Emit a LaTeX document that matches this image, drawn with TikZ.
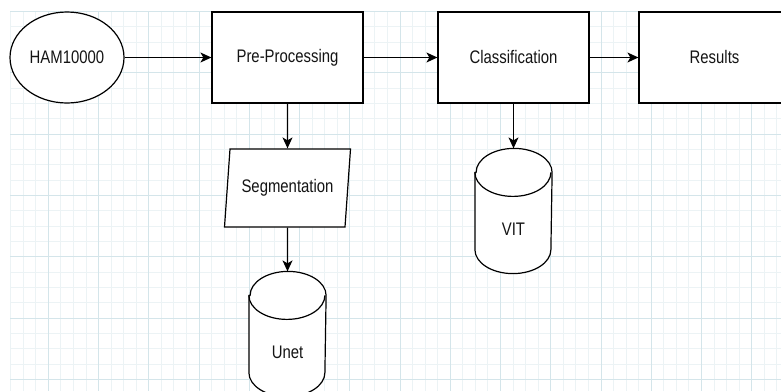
\documentclass[tikz,border=0pt]{standalone}
\usepackage{fontspec}
\setmainfont{Liberation Sans}
\usetikzlibrary{shapes.geometric,arrows.meta}
\definecolor{gridminor}{RGB}{236,243,245}
\definecolor{gridmajor}{RGB}{212,229,234}
\definecolor{ink}{RGB}{20,20,20}
\newcommand{\tallbox}[1]{\scalebox{1}[1.22]{#1}}
% a drum outline round a named box
\newcommand{\drawstore}[1]{%
  \draw[-,fill=white] ([yshift=-24pt]#1.north west) -- ([yshift=24pt]#1.south west)
    arc[start angle=180,end angle=360,x radius=38pt,y radius=24pt]
    -- ([yshift=-24pt]#1.north east)
    arc[start angle=0,end angle=180,x radius=38pt,y radius=24pt] -- cycle;
  \draw[-] ([yshift=-24pt]#1.north west)
    arc[start angle=180,end angle=360,x radius=38pt,y radius=24pt];}

\begin{document}
\begin{tikzpicture}[x=1pt,y=-1pt,
  every node/.style={font=\fontsize{14.9}{17}\selectfont,text=ink,inner sep=0pt},
  stepbox/.style={draw,line width=1.2pt,fill=white,minimum width=151pt,minimum height=91pt},
  ovalnode/.style={ellipse,draw,line width=1.2pt,fill=white,minimum width=114pt,minimum height=91pt},
  ionode/.style={trapezium,trapezium left angle=72,trapezium right angle=108,
    trapezium stretches body,draw,line width=1.2pt,fill=white,minimum width=126pt,minimum height=78pt},
  storebox/.style={minimum width=76pt,minimum height=124pt},
  ->,>={Stealth[length=11pt,width=10pt,inset=3pt]},line width=1.2pt
]
\useasboundingbox (0,0) rectangle (781,391);
\clip (0,0) rectangle (781,391);
\fill[white] (0,0) rectangle (781,391);

% the background grid
\foreach \i in {0,...,61}
  \draw[-,gridminor,line width=0.8pt] ({10.6+12.56*\i},11) -- ({10.6+12.56*\i},391);
\foreach \i in {0,...,25}
  \draw[-,gridminor,line width=0.8pt] (10,{11.4+15.33*\i}) -- (781,{11.4+15.33*\i});
\foreach \i in {0,...,14}
  \draw[-,gridmajor,line width=0.8pt] ({48.3+50.25*\i},11) -- ({48.3+50.25*\i},391);
\foreach \i in {0,...,6}
  \draw[-,gridmajor,line width=0.8pt] (10,{11.4+61.3*\i}) -- (781,{11.4+61.3*\i});

% the pipeline
\node[ovalnode] (ham) at (67,57.5) {\tallbox{HAM10000}};
\node[stepbox] (pre) at (287.5,57.5) {\tallbox{Pre-Processing}};
\node[stepbox] (cls) at (513.5,57.5) {\tallbox{Classification}};
\node[stepbox] (res) at (714.5,57.5) {\tallbox{Results}};

% the models
\node[ionode] (seg) at (287.5,188) {\tallbox{Segmentation}};
\node[storebox] (unet) at (287.5,334) {};
\drawstore{unet}
\node (unettext) at ([yshift=-18pt]unet.center) {\tallbox{Unet}};
\node[storebox] (vit) at (513.5,211) {};
\drawstore{vit}
\node (vittext) at ([yshift=-18pt]vit.center) {\tallbox{VIT}};

% the edges
\draw (ham) -- (pre);
\draw (pre) -- (cls);
\draw (cls) -- (res);
\draw (pre) -- (seg);
\draw (seg) -- (unet);
\draw (cls) -- (vit);
\end{tikzpicture}
\end{document}
